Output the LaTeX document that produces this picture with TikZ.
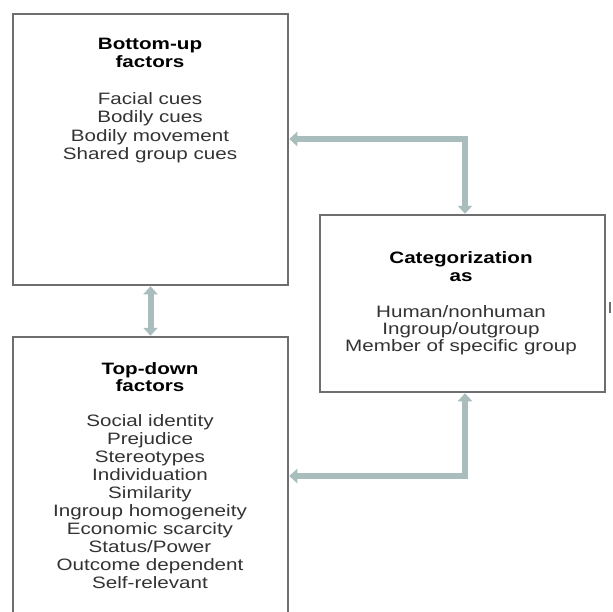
\documentclass[tikz,border=0pt]{standalone}
\usepackage{fontspec}
\setmainfont{Liberation Sans}[FakeStretch=1.25]
\usetikzlibrary{arrows.meta}
\definecolor{boxline}{HTML}{6E6E6E}
\definecolor{conncol}{HTML}{A9BDBD}
\definecolor{bodytxt}{HTML}{333333}
\tikzset{
  boxnode/.style={draw=boxline, line width=2.5pt, fill=white, inner sep=0pt, rectangle},
  conn/.style={draw=conncol, line width=6pt, {Triangle[width=14pt,length=8pt]}-{Triangle[width=14pt,length=8pt]}},
  ttl/.style={font=\fontsize{16.5}{18}\selectfont\bfseries, text=black, anchor=base, inner sep=0pt},
  bdy/.style={font=\fontsize{16.5}{18}\selectfont, text=bodytxt, anchor=base, inner sep=0pt}
}
\begin{document}
\begin{tikzpicture}[x=1pt,y=-1pt]
\useasboundingbox[fill=white] (0,0) rectangle (613,611);
\clip (0,0) rectangle (613,611);
% boxes
\node[boxnode, minimum width=275pt, minimum height=271pt] (bu) at (150.5,149.5) {};
\node[boxnode, minimum width=275pt, minimum height=290pt] (td) at (150.5,482) {};
\node[boxnode, minimum width=285pt, minimum height=177pt] (cat) at (462.5,303.5) {};
% connectors
\coordinate (k1) at (465,139);
\coordinate (k2) at (465,476);
\draw[conn] (k1 -| bu.east) -- (k1) -- (k1 |- cat.north);
\draw[conn] (cat.south -| k2) -- (k2) -- (k2 -| td.east);
\draw[conn] (bu.south) -- (td.north);
% small cropped mark at right
\draw[boxline, line width=1.5pt] (610,302) -- (610,313);
% bottom-up text
\node[ttl] (bu1) at (150,49) {Bottom-up};
\node[ttl] (bu2) at (150,67) {factors};
\node[bdy] (bu3) at (150,104) {Facial cues};
\node[bdy] (bu4) at (150,122) {Bodily cues};
\node[bdy] (bu5) at (150,141) {Bodily movement};
\node[bdy] (bu6) at (150,159) {Shared group cues};
% categorization text
\node[ttl] (c1) at (461,263) {Categorization};
\node[ttl] (c2) at (461,281) {as};
\node[bdy] (c3) at (461,317) {Human/nonhuman};
\node[bdy] (c4) at (461,334) {Ingroup/outgroup};
\node[bdy] (c5) at (461,351) {Member of specific group};
% top-down text
\node[ttl] (t1) at (150,374) {Top-down};
\node[ttl] (t2) at (150,391) {factors};
\foreach \txt [count=\i from 0] in {Social identity,Prejudice,Stereotypes,Individuation,Similarity,Ingroup homogeneity,Economic scarcity,Status/Power,Outcome dependent,Self-relevant}
  \node[bdy] (tl\i) at (150,426+18.1*\i) {\txt};
\end{tikzpicture}
\end{document}
